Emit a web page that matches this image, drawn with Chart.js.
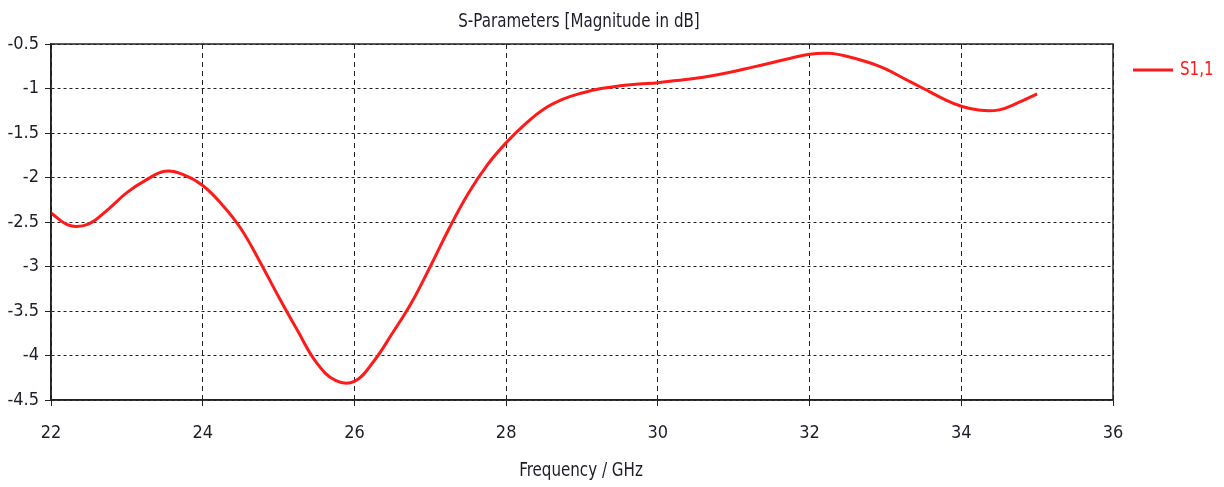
<!DOCTYPE html>
<html>
<head>
<meta charset="utf-8">
<script src="https://cdn.jsdelivr.net/npm/chart.js@4.4.1/dist/chart.umd.min.js"></script>
<style>
  html, body { margin: 0; padding: 0; background: #fff; }
  #wrap { width: 1224px; height: 487px; }
</style>
</head>
<body>
<div id="wrap"><canvas id="chart" width="1224" height="487"></canvas></div>
<script>
const FONT = '"DejaVu Sans Condensed", "Liberation Sans Narrow", "DejaVu Sans", sans-serif';

const TITLE = "S-Parameters [Magnitude in dB]";
const X_LABEL = "Frequency / GHz";
const SERIES_NAME = "S1,1";

// Frequenz in GHz
const FREQ = [
  22, 22.25, 22.5, 22.75, 23, 23.25, 23.5, 23.75, 24, 24.25,
  24.5, 24.75, 25, 25.25, 25.5, 25.75, 26, 26.25, 26.5, 26.75,
  27, 27.25, 27.5, 27.75, 28, 28.25, 28.5, 28.75, 29, 29.25,
  29.5, 29.75, 30, 30.25, 30.5, 30.75, 31, 31.25, 31.5, 31.75,
  32, 32.25, 32.5, 32.75, 33, 33.25, 33.5, 33.75, 34, 34.25,
  34.5, 34.75, 35,
];

// |S11| in dB
const S11 = [
  -2.40, -2.54, -2.52, -2.36, -2.17, -2.03, -1.93, -1.97, -2.09, -2.30,
  -2.57, -2.94, -3.34, -3.72, -4.08, -4.28, -4.29, -4.07, -3.75, -3.41,
  -3.00, -2.57, -2.18, -1.86, -1.61, -1.40, -1.23, -1.12, -1.05, -1.00,
  -0.97, -0.95, -0.935, -0.91, -0.885, -0.85, -0.81, -0.76, -0.71, -0.66,
  -0.615, -0.605, -0.64, -0.70, -0.78, -0.89, -1.00, -1.11, -1.20, -1.245,
  -1.24, -1.16, -1.06,
];

const X_MIN = 22, X_MAX = 36, X_STEP = 2;
const Y_MIN = -4.5, Y_MAX = -0.5, Y_STEP = 0.5;

const points = FREQ.map((f, i) => ({ x: f, y: S11[i] }));

// schmale Schrift: horizontal gestaucht zeichnen
function narrowText(ctx, text, x, y, align) {
  const sx = 0.84;
  ctx.save();
  ctx.translate(x, y);
  ctx.scale(sx, 1);
  ctx.textAlign = align;
  ctx.fillText(text, 0, 0);
  ctx.restore();
}

// Titel, Achsenbeschriftung, Legende und Rahmen
const decorations = {
  id: "decorations",
  afterDraw(chart) {
    const { ctx, chartArea: a } = chart;
    ctx.save();

    // Rahmen
    ctx.strokeStyle = "#222";
    ctx.lineWidth = 1.5;
    ctx.setLineDash([]);
    ctx.strokeRect(a.left, a.top, a.right - a.left, a.bottom - a.top);

    ctx.fillStyle = "#1e1e2a";
    ctx.textBaseline = "middle";
    ctx.font = "20px " + FONT;
    narrowText(ctx, TITLE, 579, 22, "center");
    narrowText(ctx, X_LABEL, 581, 471, "center");

    // Legende
    ctx.strokeStyle = "#ff1a1a";
    ctx.lineWidth = 3;
    ctx.beginPath();
    ctx.moveTo(1133, 70);
    ctx.lineTo(1173, 70);
    ctx.stroke();
    ctx.fillStyle = "#ff1a1a";
    narrowText(ctx, SERIES_NAME, 1180, 70, "left");

    ctx.restore();
  },
};

new Chart(document.getElementById("chart"), {
  type: "line",
  data: {
    datasets: [
      {
        label: SERIES_NAME,
        data: points,
        borderColor: "#ff1a1a",
        borderWidth: 3,
        pointRadius: 0,
        fill: false,
        tension: 0.4,
      },
    ],
  },
  options: {
    responsive: false,
    animation: false,
    layout: { padding: { top: 44, right: 111, left: 0, bottom: 0 } },
    plugins: {
      legend: { display: false },
      title: { display: false },
      tooltip: { enabled: false },
    },
    scales: {
      x: {
        type: "linear",
        min: X_MIN,
        max: X_MAX,
        ticks: {
          stepSize: X_STEP,
          color: "#1e1e2a",
          font: { family: FONT, size: 18 },
          padding: 17,
          maxRotation: 0,
          callback: (v) => String(v),
        },
        grid: { color: "#222", lineWidth: 1, tickLength: 6, tickColor: "#222" },
        border: { color: "#222", width: 1.5, dash: [5, 4] },
        afterFit(scale) { scale.height = 87; },
      },
      y: {
        type: "linear",
        min: Y_MIN,
        max: Y_MAX,
        ticks: {
          stepSize: Y_STEP,
          color: "#1e1e2a",
          font: { family: FONT, size: 18 },
          padding: 6,
          callback: (v) => String(v),
        },
        grid: { color: "#222", lineWidth: 1, tickLength: 6, tickColor: "#222" },
        border: { color: "#222", width: 1.5, dash: [3, 3] },
        afterFit(scale) { scale.width = 51; },
      },
    },
  },
  plugins: [decorations],
});
</script>
</body>
</html>
